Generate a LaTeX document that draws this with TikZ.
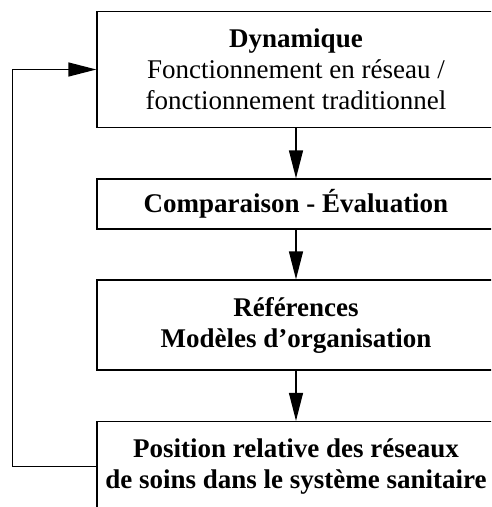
\documentclass[tikz,border=0pt]{standalone}
\usepackage{fontspec}
\setmainfont{Liberation Serif}
\usetikzlibrary{arrows.meta}
\begin{document}
\begin{tikzpicture}[x=1pt, y=-1pt, line width=1.3pt,
  box/.style={draw, minimum width=398pt, align=center, inner sep=0pt,
    font=\fontsize{27}{31}\selectfont},
  flow/.style={-{Triangle[length=28pt,width=14pt]}}]
\useasboundingbox (0,0) rectangle (491,507);
\clip (0,0) rectangle (491,507);
% the four stages, top to bottom
\node[box, minimum height=116pt] (dyn) at (296,69.5) {\textbf{Dynamique}\\Fonctionnement en réseau /\\fonctionnement traditionnel};
\node[box, minimum height=50pt] (comp) at (296,204) {\textbf{Comparaison - Évaluation}};
\node[box, minimum height=90pt] (ref) at (296,325) {\textbf{Références}\\\textbf{Modèles d’organisation}};
\node[box, minimum height=90pt] (pos) at (296,466.5) {\textbf{Position relative des réseaux}\\\textbf{de soins dans le système sanitaire}};
% downward flow
\foreach \a/\b in {dyn/comp, comp/ref, ref/pos}
  \draw[flow] (\a) -- (\b);
% feedback loop back to the top
\draw[flow] (pos.west) -- ++(-84,0) |- (dyn.west);
\end{tikzpicture}
\end{document}
